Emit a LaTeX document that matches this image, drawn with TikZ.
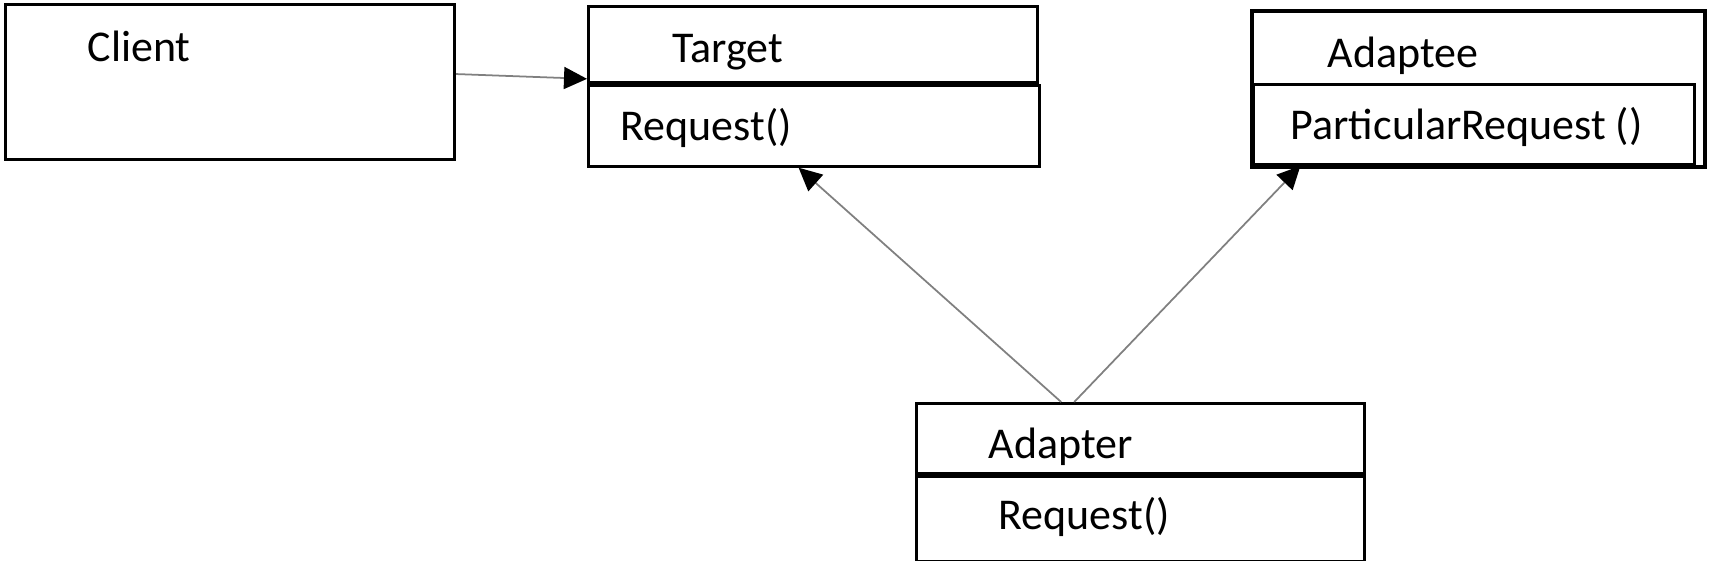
\documentclass[tikz,border=0pt]{standalone}
\usepackage{fontspec}
\setmainfont{Carlito}
\usetikzlibrary{arrows.meta,positioning,calc}

\begin{document}
\begin{tikzpicture}[
  x=0.01cm, y=-0.01cm,
  every node/.style={font=\fontsize{12.5}{15}\selectfont},
  box/.style={draw, line width=0.8pt, inner sep=0pt, anchor=north west},
  txt/.style={inner sep=0pt, anchor=base west},
  assoc/.style={draw=gray, line width=0.5pt, -{Triangle[length=2.3mm, width=2.2mm, color=black]}}
]
\useasboundingbox (0,0) rectangle (1713,561);

% client
\node[box, minimum width=4.49cm, minimum height=1.55cm] (client) at (4,3) {};
\node[txt] (clientname) at ($(client.north west)+(83,59)$) {Client};

% target
\node[box, minimum width=4.49cm, minimum height=0.76cm] (targettitle) at (587,5) {};
\node[box, minimum width=4.51cm, minimum height=0.81cm] (targetops) at (targettitle.south west) {};
\node[txt] (targetname) at ($(targettitle.north west)+(85,58)$) {Target};
\node[txt] (targetreq) at ($(targetops.north west)+(33,57)$) {Request()};

% adaptee
\node[box, line width=1.1pt, minimum width=4.53cm, minimum height=1.56cm] (adaptee) at (1250,9) {};
\node[box, minimum width=4.41cm, minimum height=0.80cm] (adapteeops) at (1252,83) {};
\node[txt] (adapteename) at ($(adaptee.north west)+(77,59)$) {Adaptee};
\node[txt] (adapteereq) at ($(adapteeops.north west)+(38,57)$) {ParticularRequest ()};

% adapter
\node[box, minimum width=4.48cm, minimum height=0.70cm] (adaptertitle) at (915,402) {};
\node[box, minimum width=4.48cm, minimum height=0.85cm] (adapterops) at (adaptertitle.south west) {};
\node[txt] (adaptername) at ($(adaptertitle.north west)+(73,56)$) {Adapter};
\node[txt] (adapterreq) at ($(adapterops.north west)+(83,55)$) {Request()};

% connectors
\draw[assoc] ($(client.north east)!0.45!(client.south east)$) -- ($(targettitle.south west)+(0,-5)$);
\draw[assoc] ($(adaptertitle.north west)!0.324!(adaptertitle.north east)$) -- ($(targetops.south west)!0.466!(targetops.south east)$);
\draw[assoc] ($(adaptertitle.north west)!0.353!(adaptertitle.north east)$) -- ($(adapteeops.south west)!0.109!(adapteeops.south east)$);
\end{tikzpicture}
\end{document}
